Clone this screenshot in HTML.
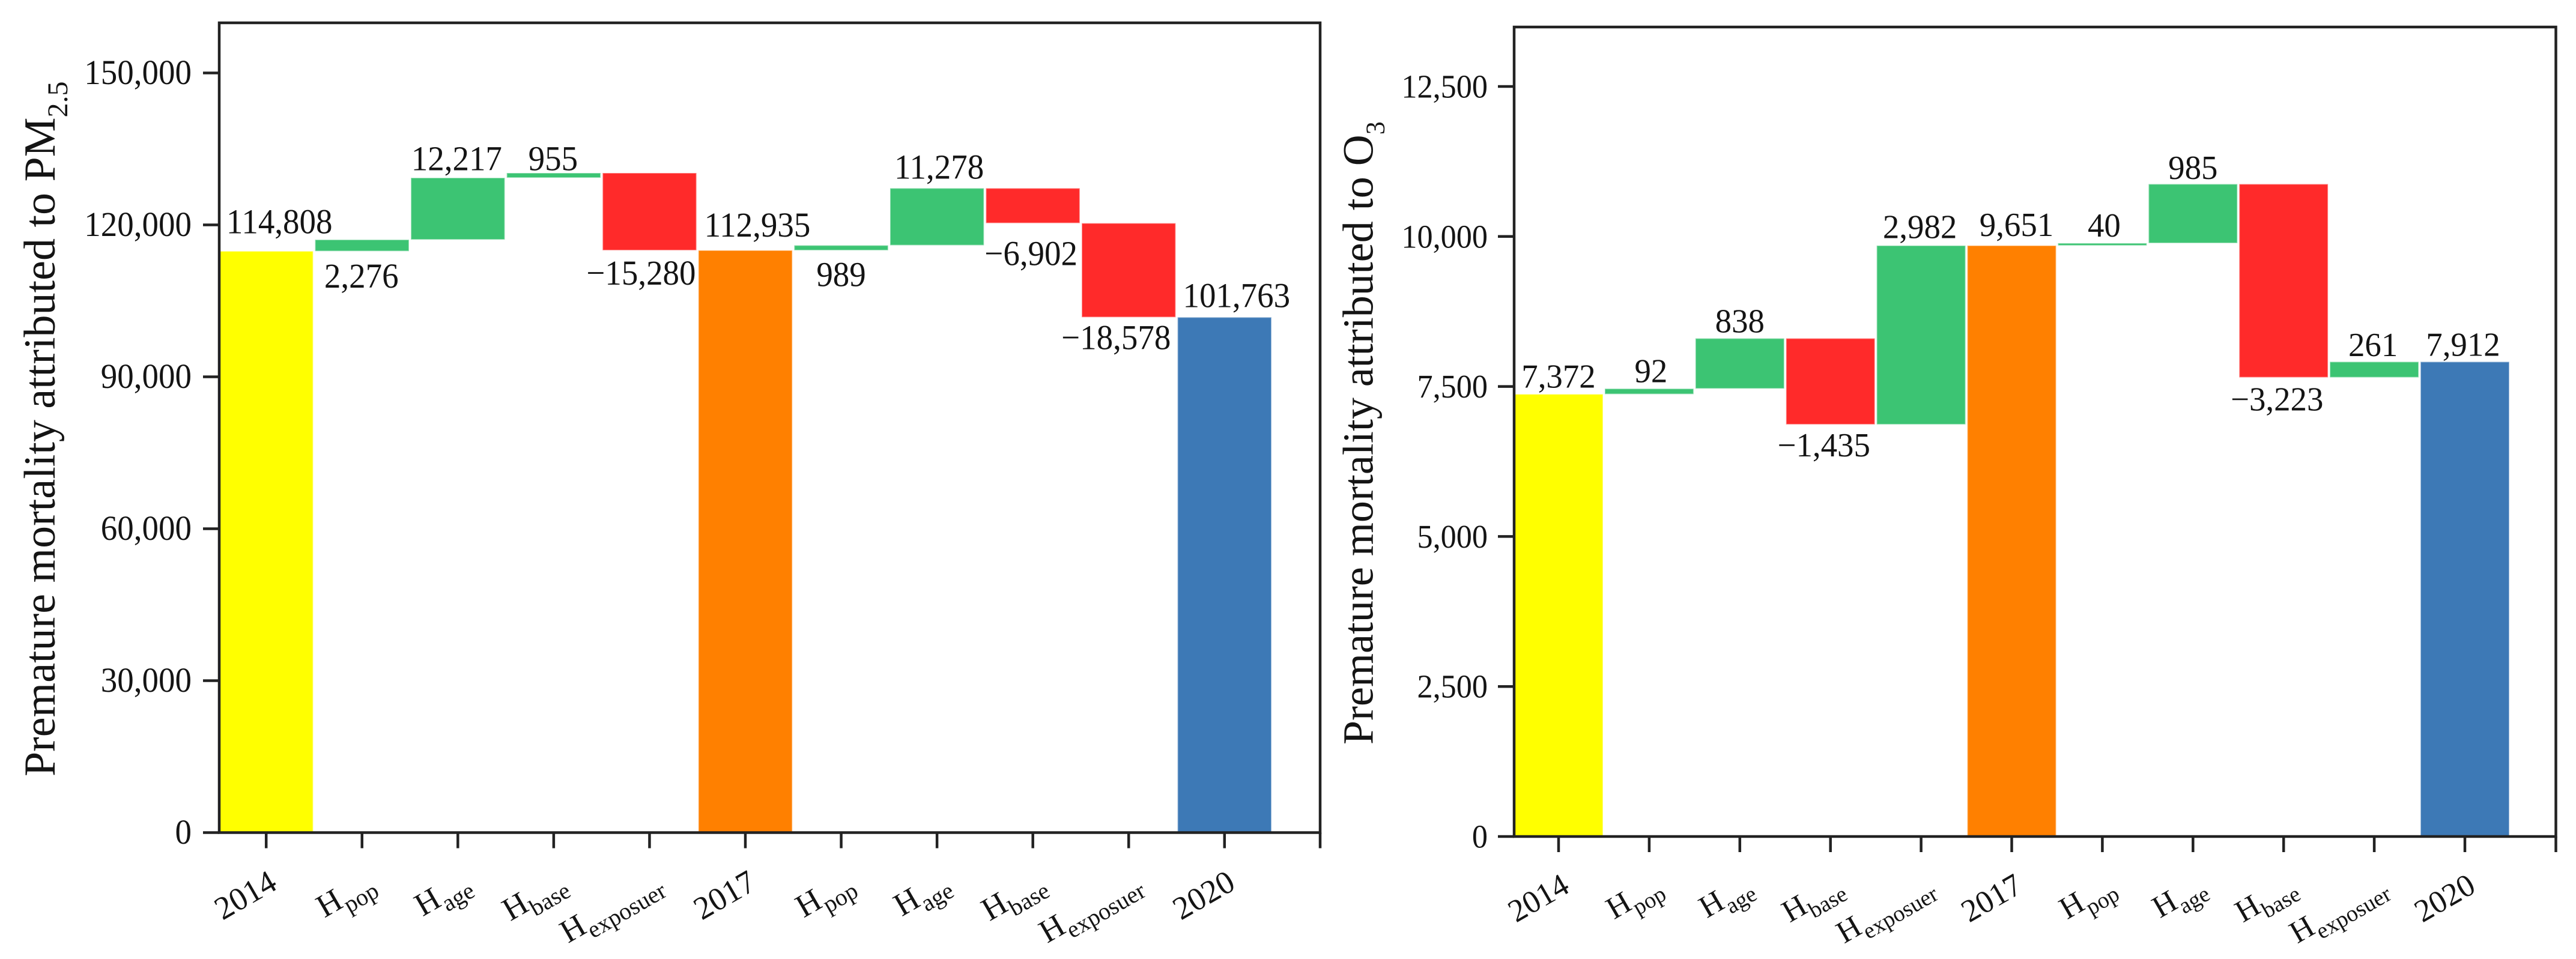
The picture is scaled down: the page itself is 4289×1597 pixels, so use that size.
<!DOCTYPE html>
<html lang="en">
<head>
<meta charset="utf-8">
<title>Premature mortality waterfall charts</title>
<style>
html,body{margin:0;padding:0;background:#fff;width:4289px;height:1597px;overflow:hidden}
svg{display:block}
text{font-family:"Liberation Serif",serif;fill:#141414}
</style>
</head>
<body>
<svg id="figure" xmlns="http://www.w3.org/2000/svg" width="4289" height="1597" viewBox="0 0 4289 1597"></svg>
<script>
const categories = ['2014', 'Hpop', 'Hage', 'Hbase', 'Hexposuer', '2017', 'Hpop', 'Hage', 'Hbase', 'Hexposuer', '2020'];

const pmValues = [114808, 2276, 12217, 955, -15280, 114976, 989, 11278, -6902, -18578, 101763];
const pmPrinted = [114808, 2276, 12217, 955, -15280, 112935, 989, 11278, -6902, -18578, 101763];
const pmTicks = [0, 30000, 60000, 90000, 120000, 150000];

const o3Values = [7372, 92, 838, -1435, 2982, 9849, 40, 985, -3223, 261, 7912];
const o3Printed = [7372, 92, 838, -1435, 2982, 9651, 40, 985, -3223, 261, 7912];
const o3Ticks = [0, 2500, 5000, 7500, 10000, 12500];

const palette = {2014: '#ffff00', 2017: '#ff8000', 2020: '#3d79b6', up: '#3cc473', down: '#ff2a2a'};

const panels = [
  {
    key: 'pm25', values: pmValues, printed: pmPrinted, ticks: pmTicks,
    left: 365, right: 2198, top: 38, bottom: 1386.5, x0: 443.2, step: 159.56, perUnit: 253 / 30000,
    tickLabelX: 319, tickSize: 58.5, tickSx: 0.94, valueSize: 58.5, valueSx: 0.94,
    nudgeX: [22, -1, -2, -1, -14, 20, 0, 3.5, -3, -21, 20],
    nudgeY: [-30, 80, -12.6, -4.5, 57, -23, 68, -16, 70, 53, -17],
    title: 'Premature mortality attributed to PM', titleSub: '2.5',
    titleX: 91, titleY: 1293, titleSize: 74, subSize: 48, subDrop: 21,
    yearY: 1479, yearSize: 54, hY: 1479, hSize: 54, hSubSize: 40, hSubDrop: 14
  },
  {
    key: 'o3', values: o3Values, printed: o3Printed, ticks: o3Ticks,
    left: 2521, right: 4255.5, top: 45, bottom: 1393, x0: 2595, step: 150.9, perUnit: 249.8 / 2500,
    tickLabelX: 2477, tickSize: 55, tickSx: 0.95, valueSize: 56, valueSx: 0.98,
    nudgeX: [0, 3, 0, -11, -2, 8, 3, 0, -11, -2, -3],
    nudgeY: [-11, -10.5, -10, 53, -12.5, -16, -11, -8.5, 55, -9.4, -10],
    title: 'Premature mortality attributed to O', titleSub: '3',
    titleX: 2285.6, titleY: 1240, titleSize: 72, subSize: 44, subDrop: 19,
    yearY: 1484, yearSize: 53, hY: 1484, hSize: 52, hSubSize: 38, hSubDrop: 14
  }
];

const SVG_NS = 'http://www.w3.org/2000/svg';
const figure = document.getElementById('figure');

function make(tag, parent, attrs) {
  const node = document.createElementNS(SVG_NS, tag);
  for (const k in attrs) node.setAttribute(k, attrs[k]);
  parent.appendChild(node);
  return node;
}

function fmt(v) {
  return (v < 0 ? '\u2212' : '') + Math.abs(v).toLocaleString('en-US');
}

function drawPanel(p) {
  const xAt = i => p.x0 + i * p.step;
  const yAt = v => p.bottom - v * p.perUnit;
  const barW = p.step * 0.98;

  const group = make('g', figure, {});
  
  

  // waterfall bars: totals rise from zero, deltas stack on the running sum
  let running = 0;
  p.values.forEach((v, i) => {
    const isTotal = /^\d+$/.test(categories[i]);
    const start = isTotal ? 0 : running;
    const end = isTotal ? v : running + v;
    running = end;
    const hi = Math.max(start, end);
    const lo = Math.min(start, end);
    const fill = isTotal ? palette[categories[i]] : (v < 0 ? palette.down : palette.up);

    const bar = make('rect', group, {
      x: xAt(i) - barW / 2,
      y: yAt(hi),
      width: barW,
      height: yAt(lo) - yAt(hi),
      fill: fill,
      stroke: 'rgba(255,255,255,0.45)',
      'stroke-width': 2
    });
    
    

    const anchorY = v < 0 ? yAt(lo) : yAt(hi);
    const label = make('text', group, {
      transform: 'translate(' + (xAt(i) + p.nudgeX[i]) + ' ' + (anchorY + p.nudgeY[i]) + ') scale(' + p.valueSx + ' 1)',
      'text-anchor': 'middle',
      'font-size': p.valueSize
    });
    label.textContent = fmt(p.printed[i]);
    
    
  });

  // plot frame
  const frame = make('rect', group, {
    x: p.left, y: p.top, width: p.right - p.left, height: p.bottom - p.top,
    fill: 'none', stroke: '#222', 'stroke-width': 4.5
  });
  
  

  // y axis ticks and labels
  p.ticks.forEach(t => {
    const y = yAt(t);
    const tick = make('line', group, {x1: p.left - 27, x2: p.left, y1: y, y2: y, stroke: '#222', 'stroke-width': 4.5});
    
    

    const label = make('text', group, {
      transform: 'translate(' + p.tickLabelX + ' ' + (y + 18.5) + ') scale(' + p.tickSx + ' 1)',
      'text-anchor': 'end',
      'font-size': p.tickSize
    });
    label.textContent = t.toLocaleString('en-US');
    
    
  });

  // x axis ticks and rotated labels
  categories.forEach((c, i) => {
    const x = xAt(i);
    const tick = make('line', group, {x1: x, x2: x, y1: p.bottom, y2: p.bottom + 26, stroke: '#222', 'stroke-width': 4.5});
    
    

    const isYear = /^\d+$/.test(c);
    const ax = x + (isYear ? 21 : 24);
    const ay = isYear ? p.yearY : p.hY;
    const label = make('text', group, {
      x: ax, y: ay,
      'text-anchor': 'end',
      'font-size': isYear ? p.yearSize : p.hSize,
      transform: 'rotate(-30 ' + ax + ' ' + ay + ')'
    });
    
    
    if (isYear) {
      label.textContent = c;
    } else {
      label.appendChild(document.createTextNode('H'));
      const sub = make('tspan', label, {dx: 1, dy: p.hSubDrop, 'font-size': p.hSubSize});
      sub.textContent = c.slice(1);
    }
  });
  const endTick = make('line', group, {x1: p.right, x2: p.right, y1: p.bottom, y2: p.bottom + 26, stroke: '#222', 'stroke-width': 4.5});
  
  

  // y axis title
  const title = make('text', group, {
    x: p.titleX, y: p.titleY,
    'font-size': p.titleSize,
    transform: 'rotate(-90 ' + p.titleX + ' ' + p.titleY + ')'
  });
  
  
  title.appendChild(document.createTextNode(p.title));
  const titleSub = make('tspan', title, {dy: p.subDrop, 'font-size': p.subSize});
  titleSub.textContent = p.titleSub;
}

panels.forEach(drawPanel);
</script>
</body>
</html>
